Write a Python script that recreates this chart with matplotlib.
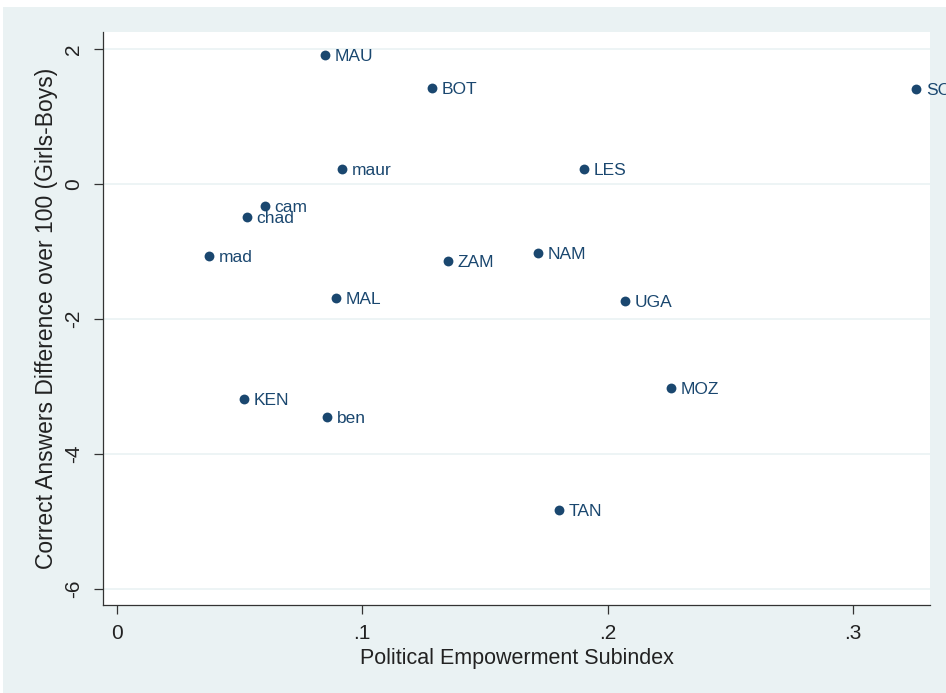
import matplotlib
matplotlib.use("Agg")
import matplotlib.pyplot as plt
from matplotlib.patches import Rectangle

plt.rcParams['font.family'] = ['Liberation Sans', 'DejaVu Sans']

# country codes with political empowerment subindex and test-score gap
countries = ["MAU", "BOT", "SOU", "maur", "LES", "cam", "chad", "mad", "ZAM",
             "NAM", "MAL", "UGA", "MOZ", "KEN", "ben", "TAN"]
empowerment = [0.0848, 0.1284, 0.3257, 0.0917, 0.1904, 0.0603, 0.0530, 0.0375,
               0.1349, 0.1716, 0.0893, 0.2071, 0.2258, 0.0518, 0.0856, 0.1802]
gap = [1.91, 1.42, 1.41, 0.22, 0.22, -0.33, -0.49, -1.07, -1.14,
       -1.02, -1.69, -1.73, -3.02, -3.19, -3.45, -4.83]

xticks = [0, 0.1, 0.2, 0.3]
xticklabels = ["0", ".1", ".2", ".3"]
yticks = [-6, -4, -2, 0, 2]

navy = "#1a476f"
bg = "#eaf2f3"
ink = "#222222"

fig = plt.figure(figsize=(9.46, 6.93), dpi=100, facecolor="white")
fig.patches.append(Rectangle((3 / 946, 0), 1, 1 - 7 / 693, transform=fig.transFigure,
                             facecolor=bg, edgecolor="none", zorder=-1))

ax = fig.add_axes([103 / 946, 1 - 605 / 693, (930 - 103) / 946, (605 - 32) / 693])
ax.set_facecolor("white")

ax.scatter(empowerment, gap, s=50, color=navy, zorder=3, linewidths=0)
for name, x, y in zip(countries, empowerment, gap):
    ax.annotate(name, (x, y), xytext=(7, -4.3), textcoords="offset points",
                ha="left", va="baseline", fontsize=12.5, color=navy,
                annotation_clip=False, zorder=4)

ax.set_xlim(-0.0057, 0.3314)
ax.set_ylim(-6.24, 2.25)
ax.set_xticks(xticks)
ax.set_xticklabels(xticklabels)
ax.set_yticks(yticks)
ax.set_yticklabels([str(t) for t in yticks], rotation=90, va="center")

ax.grid(axis="y", color=bg, linewidth=1.2, zorder=0)
for s in ["top", "right"]:
    ax.spines[s].set_visible(False)
for s in ["left", "bottom"]:
    ax.spines[s].set_color("#333333")
    ax.spines[s].set_linewidth(0.9)
ax.tick_params(direction="out", length=6.5, width=0.9, color="#333333",
               labelsize=15, labelcolor=ink)
ax.tick_params(axis="x", pad=7)
ax.tick_params(axis="y", pad=8)

ax.set_xlabel("Political Empowerment Subindex", fontsize=15.5, color=ink, labelpad=4)
ax.set_ylabel("Correct Answers Difference over 100 (Girls-Boys)", fontsize=16.5,
              color=ink, labelpad=4)

fig.savefig("out.png", dpi=100)
